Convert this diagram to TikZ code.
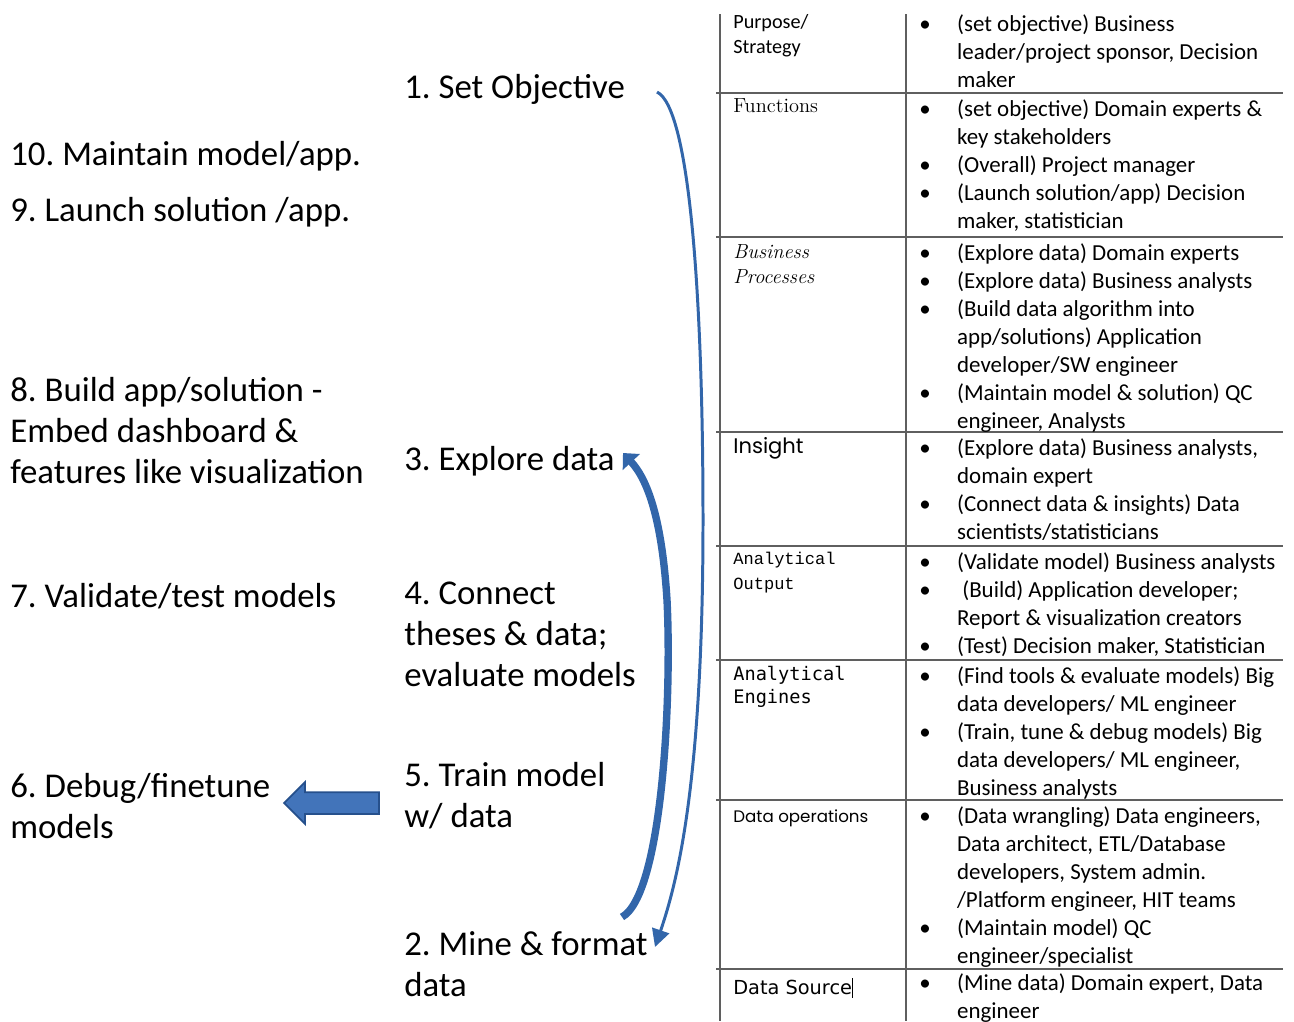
\documentclass[tikz,border=0pt]{standalone}
\usepackage{fontspec}
\newfontfamily\calibri{Carlito}
\newfontfamily\handfont{Poppins}
\newfontfamily\slabmono{Liberation Mono}
\newfontfamily\codemono{DejaVu Sans Mono}
\newfontfamily\verdfont{DejaVu Sans}
\usetikzlibrary{arrows.meta, shapes.arrows}
\definecolor{flowBlue}{RGB}{50,102,170}
\definecolor{blockBlue}{RGB}{66,116,186}
\definecolor{blockEdge}{RGB}{38,80,140}
\definecolor{gridGray}{RGB}{95,95,95}
\frenchspacing
% bullet and hanging indent for the table cells
\newcommand{\bul}{\makebox[21.5pt][l]{\textbullet}}
\newcommand{\ind}{\hspace*{21.5pt}}

% multi-line nodes sit on the baseline of their last line
\tikzset{
  steptext/.style={anchor=base west, inner sep=0pt, align=left,
    font=\calibri\fontsize{19.8}{23.3}\selectfont},
  celltext/.style={anchor=north west, inner sep=0pt,
    font=\calibri\fontsize{13.05}{15.9}\selectfont},
  rowname/.style={anchor=base west, inner sep=0pt, align=left},
  gridline/.style={gridGray, line width=1.3pt},
}

\begin{document}
\begin{tikzpicture}[x=0.02cm, y=-0.02cm]
  \useasboundingbox (0,0) rectangle (1294,1021);

  % steps of the cycle
  \node[steptext] (s1) at (404,98) {1. Set Objective};
  \node[steptext] (s10) at (10,165) {10. Maintain model/app.};
  \node[steptext] (s9) at (10,221) {9. Launch solution /app.};
  \node[steptext] (s8) at (10,483) {8. Build app/solution -\\Embed dashboard \&\\features like visualization};
  \node[steptext] (s3) at (404,470) {3. Explore data};
  \node[steptext] (s7) at (10,607) {7. Validate/test models};
  \node[steptext] (s4) at (404,686) {4. Connect\\theses \& data;\\evaluate models};
  \node[steptext] (s5) at (404,827) {5. Train model\\w/ data};
  \node[steptext] (s6) at (10,838) {6. Debug/finetune\\models};
  \node[steptext] (s2) at (404,996) {2. Mine \& format\\data};

  \node[single arrow, fill=blockBlue, draw=blockEdge, line width=1pt,
    minimum height=1.9cm, inner sep=0.2cm, single arrow head extend=0.2cm,
    shape border rotate=180] (debugarrow) at (337,803) {};

  % curved flow arrows
  \coordinate (objOut) at (657,92);
  \coordinate (mineIn) at (655,947);
  \coordinate (mineOut) at (622,917);
  \coordinate (exploreIn) at (623,453);
  \draw[flowBlue, line width=1.7pt, -{Triangle[length=10pt, width=10pt]}]
    (objOut) .. controls (690,108) and (703,300) .. (703,520)
    .. controls (703,780) and (678,880) .. (mineIn);
  \draw[flowBlue, line width=4.2pt, -{Triangle[length=7pt, width=13pt]}]
    (mineOut) .. controls (662,895) and (672,700) .. (667,600)
    .. controls (662,520) and (648,480) .. (exploreIn);

  % table grid
  \draw[gridline] (720,14) -- (720,1021);
  \draw[gridline] (906,14) -- (906,1021);
  \foreach \y in {93,237,432,546,660,800,969}
    \draw[gridline] (716,\y) -- (1283,\y);

  % row names
  \node[rowname, font=\calibri\fontsize{11.5}{14.2}\selectfont] (rPurpose) at (733,53) {Purpose/\\Strategy};
  \node[rowname, font=\rmfamily\fontsize{11.6}{14}\selectfont] (rFunctions) at (733,112) {Functions};
  \node[rowname, font=\rmfamily\itshape\fontsize{11.6}{13.7}\selectfont] (rBusiness) at (733,283) {Business\\Processes};
  \node[rowname, font=\handfont\fontsize{12}{14}\selectfont] (rInsight) at (733,453) {Insight};
  \node[rowname, font=\slabmono\fontsize{9.7}{14.2}\selectfont] (rOutput) at (733,589) {Analytical\\Output};
  \node[rowname, font=\codemono\fontsize{10.6}{13}\selectfont] (rEngines) at (733,703) {Analytical\\Engines};
  \node[rowname, font=\handfont\fontsize{9.5}{12}\selectfont] (rDataOps) at (733,822) {Data operations};
  \node[rowname, font=\verdfont\fontsize{11}{13}\selectfont] (rSource) at (733,994) {Data Source\rule[-2pt]{0.6pt}{11pt}};

  % who takes part in each row
  \node[celltext] (cPurpose) at (919,12) {\begin{tabular}{@{}l@{}}
    \bul(set objective) Business\\
    \ind leader/project sponsor, Decision\\
    \ind maker\end{tabular}};
  \node[celltext] (cFunctions) at (919,97) {\begin{tabular}{@{}l@{}}
    \bul(set objective) Domain experts \&\\
    \ind key stakeholders\\
    \bul(Overall) Project manager\\
    \bul(Launch solution/app) Decision\\
    \ind maker, statistician\end{tabular}};
  \node[celltext] (cBusiness) at (919,241) {\begin{tabular}{@{}l@{}}
    \bul(Explore data) Domain experts\\
    \bul(Explore data) Business analysts\\
    \bul(Build data algorithm into\\
    \ind app/solutions) Application\\
    \ind developer/SW engineer\\
    \bul(Maintain model \& solution) QC\\
    \ind engineer, Analysts\end{tabular}};
  \node[celltext] (cInsight) at (919,436) {\begin{tabular}{@{}l@{}}
    \bul(Explore data) Business analysts,\\
    \ind domain expert\\
    \bul(Connect data \& insights) Data\\
    \ind scientists/statisticians\end{tabular}};
  \node[celltext] (cOutput) at (919,550) {\begin{tabular}{@{}l@{}}
    \bul(Validate model) Business analysts\\
    \bul\ (Build) Application developer;\\
    \ind Report \& visualization creators\\
    \bul(Test) Decision maker, Statistician\end{tabular}};
  \node[celltext] (cEngines) at (919,664) {\begin{tabular}{@{}l@{}}
    \bul(Find tools \& evaluate models) Big\\
    \ind data developers/ ML engineer\\
    \bul(Train, tune \& debug models) Big\\
    \ind data developers/ ML engineer,\\
    \ind Business analysts\end{tabular}};
  \node[celltext] (cDataOps) at (919,804) {\begin{tabular}{@{}l@{}}
    \bul(Data wrangling) Data engineers,\\
    \ind Data architect, ETL/Database\\
    \ind developers, System admin.\\
    \ind /Platform engineer, HIT teams\\
    \bul(Maintain model) QC\\
    \ind engineer/specialist\end{tabular}};
  \node[celltext] (cSource) at (919,971) {\begin{tabular}{@{}l@{}}
    \bul(Mine data) Domain expert, Data\\
    \ind engineer\end{tabular}};
\end{tikzpicture}
\end{document}
